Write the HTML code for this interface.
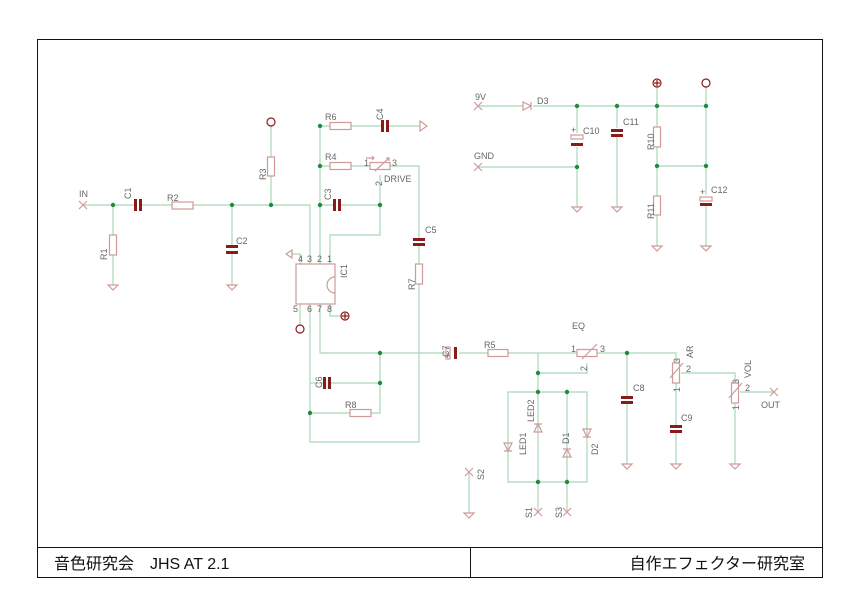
<!DOCTYPE html>
<html><head><meta charset="utf-8"><style>
html,body{margin:0;padding:0;background:#fff}
svg{display:block}
.w{stroke:#a6d8b6;stroke-width:1.2;fill:none}
.c{stroke:#d09a9a;stroke-width:1.2;fill:none}
.cap{fill:#8b1a1a}
.d{fill:#1e8c3a}
text{font-family:"Liberation Sans",sans-serif;font-size:9px;fill:#666}
.t{font-family:"Liberation Sans","Noto Sans CJK JP",sans-serif;font-size:16px;fill:#111}
</style></head><body>
<svg width="859" height="612" viewBox="0 0 859 612">
<rect x="37.5" y="39.5" width="785" height="538" fill="none" stroke="#111" stroke-width="1"/>
<line x1="37" y1="547.5" x2="822" y2="547.5" stroke="#111"/>
<line x1="470.5" y1="547" x2="470.5" y2="577" stroke="#111"/>
<text class="t" x="54" y="569">音色研究会　JHS AT 2.1</text>
<text class="t" x="805" y="569" text-anchor="end">自作エフェクター研究室</text>

<!-- wires left -->
<g class="w">
<path d="M83 205H134M141 205H172M193 205H310V264"/>
<path d="M113 205V235M113 255V285"/>
<path d="M232 205V245M232 254V285"/>
<path d="M271 205V176M271 157V126"/>
<path d="M320 126V264M320 126H330M351 126H381M388 126H420"/>
<path d="M320 166H330M351 166H370M390 166H419V238M419 244V264M419 284V442H310V304"/>
<path d="M320 205H333M340 205H380V235H330V264"/>
<path d="M380 205V175"/>
<path d="M300 264V254H292"/>
<path d="M300 304V325"/>
<path d="M330 304V316H341"/>
<path d="M320 304V353H446M459 353H488M508 353H577M597 353H676V363"/>
<path d="M380 353V413H371M350 413H310"/>
<path d="M310 383H323M330 383H380"/>
<!-- right-bottom -->
<path d="M538 353V482M587 363V373H538M508 392H587V482H508Z"/>
<path d="M538 482V512M567 392V512"/>
<path d="M469 472V513"/>
<path d="M627 353V396M627 403V464"/>
<path d="M676 383V425M676 431V464M681 373H735V383M735 403V464M740 392H774"/>
<!-- top right -->
<path d="M478 106H523M533 106H706V166M657 106V87M706 106V87"/>
<path d="M478 167H577V207M577 106V133M577 147V167"/>
<path d="M617 106V128M617 136V207"/>
<path d="M657 106V127M657 147V196M657 215V246M657 166H706V195M706 206V246"/>
</g>

<!-- components outlines -->
<g class="c">
<rect x="172" y="202" width="21" height="7"/>
<rect x="109.5" y="235" width="7" height="20"/>
<rect x="267.5" y="157" width="7" height="19"/>
<circle cx="271" cy="122" r="4" stroke="#8b1a1a"/>
<rect x="330" y="122.5" width="21" height="7"/>
<rect x="330" y="162.5" width="21" height="7"/>
<rect x="370" y="162.5" width="20" height="7"/>
<path d="M375 171L389 158M386 158h3v3M366 158h8m-2-2l2 2-2 2"/>
<rect x="415.5" y="264" width="7" height="20"/>
<rect x="350" y="409.5" width="21" height="7"/>
<rect x="296" y="264" width="39" height="40"/>
<path d="M335 277a8 8 0 0 0 0 16"/>
<path d="M292 250v8l-6-4z"/>
<circle cx="300" cy="329" r="4" stroke="#8b1a1a"/>
<circle cx="345" cy="316" r="4" stroke="#8b1a1a"/>
<path d="M345 313v6M342 316h6" stroke="#8b1a1a"/>
<path d="M420 121v10l7-5z"/>
<rect x="488" y="349.5" width="20" height="7"/>
<rect x="577" y="349.5" width="20" height="7"/>
<path d="M582 359L597 344"/>
<rect x="672.5" y="363" width="7" height="20"/>
<rect x="731.5" y="383" width="7" height="20"/>
<path d="M670 378L683 363M729 398L742 383"/>
<rect x="653.5" y="127" width="7" height="20"/>
<rect x="653.5" y="196" width="7" height="19"/>
<circle cx="657" cy="83" r="4" stroke="#8b1a1a"/>
<path d="M657 80v6M654 83h6" stroke="#8b1a1a"/>
<circle cx="706" cy="83" r="4" stroke="#8b1a1a"/>
<!-- diodes -->
<path d="M523 102v8l8-4zM531 102v8"/>
<path d="M504 443h8l-4 8zM504 451h8"/>
<path d="M534 432h8l-4-8zM534 424h8"/>
<path d="M563 457h8l-4-8zM563 449h8"/>
<path d="M583 429h8l-4 8zM583 437h8"/>
<!-- grounds -->
<path d="M108 285h10l-5 5zM227 285h10l-5 5zM572 207h10l-5 5zM612 207h10l-5 5zM652 246h10l-5 5zM701 246h10l-5 5zM622 464h10l-5 5zM671 464h10l-5 5zM730 464h10l-5 5zM464 513h10l-5 5z"/>
<!-- X marks -->
<path d="M79 201l8 8M87 201l-8 8M474 102l8 8M482 102l-8 8M474 163l8 8M482 163l-8 8M465 468l8 8M473 468l-8 8M534 508l8 8M542 508l-8 8M563 508l8 8M571 508l-8 8M770 388l8 8M778 388l-8 8"/>
<!-- electrolytic open plates -->
<rect x="446" y="347" width="4" height="12"/>
<rect x="571" y="135" width="12" height="4"/>
<rect x="700" y="197" width="12" height="4"/>
</g>
<!-- caps -->
<g class="cap">
<rect x="134" y="199" width="3" height="12"/><rect x="139" y="199" width="3" height="12"/>
<rect x="226" y="245" width="12" height="3"/><rect x="226" y="251" width="12" height="3"/>
<rect x="333" y="199" width="3" height="12"/><rect x="338" y="199" width="3" height="12"/>
<rect x="381" y="120" width="3" height="12"/><rect x="386" y="120" width="3" height="12"/>
<rect x="413" y="238" width="12" height="3"/><rect x="413" y="243" width="12" height="3"/>
<rect x="323" y="377" width="3" height="12"/><rect x="328" y="377" width="3" height="12"/>
<rect x="454" y="347" width="3" height="12"/>
<rect x="621" y="396" width="12" height="3"/><rect x="621" y="401" width="12" height="3"/>
<rect x="670" y="425" width="12" height="3"/><rect x="670" y="430" width="12" height="3"/>
<rect x="571" y="143" width="12" height="3"/>
<rect x="611" y="129" width="12" height="3"/><rect x="611" y="134" width="12" height="3"/>
<rect x="700" y="203" width="12" height="3"/>
</g>
<!-- dots -->
<g class="d">
<circle cx="113" cy="205" r="2.2"/><circle cx="232" cy="205" r="2.2"/><circle cx="271" cy="205" r="2.2"/>
<circle cx="320" cy="205" r="2.2"/><circle cx="380" cy="205" r="2.2"/><circle cx="320" cy="126" r="2.2"/><circle cx="320" cy="166" r="2.2"/>
<circle cx="380" cy="353" r="2.2"/><circle cx="380" cy="383" r="2.2"/><circle cx="310" cy="413" r="2.2"/>
<circle cx="538" cy="373" r="2.2"/><circle cx="538" cy="392" r="2.2"/><circle cx="567" cy="392" r="2.2"/>
<circle cx="538" cy="482" r="2.2"/><circle cx="567" cy="482" r="2.2"/><circle cx="627" cy="353" r="2.2"/>
<circle cx="577" cy="106" r="2.2"/><circle cx="617" cy="106" r="2.2"/><circle cx="657" cy="106" r="2.2"/><circle cx="706" cy="106" r="2.2"/>
<circle cx="577" cy="167" r="2.2"/><circle cx="657" cy="166" r="2.2"/><circle cx="706" cy="166" r="2.2"/>
</g>
<!-- labels -->
<g>
<text x="79" y="197">IN</text>
<text x="167" y="201">R2</text>
<text x="236" y="244">C2</text>
<text x="325" y="120">R6</text>
<text x="325" y="160">R4</text>
<text x="364" y="166" font-size="7">1</text><text x="392" y="166" font-size="7">3</text>
<text x="384" y="182">DRIVE</text>
<text x="425" y="233">C5</text>
<text x="345" y="408">R8</text>
<text x="298" y="262" font-size="7">4</text><text x="307" y="262" font-size="7">3</text><text x="317" y="262" font-size="7">2</text><text x="327" y="262" font-size="7">1</text>
<text x="293" y="312" font-size="7">5</text><text x="307" y="312" font-size="7">6</text><text x="317" y="312" font-size="7">7</text><text x="327" y="312" font-size="7">8</text>
<text x="484" y="348">R5</text>
<text x="572" y="329">EQ</text>
<text x="571" y="352" font-size="7">1</text><text x="600" y="352" font-size="7">3</text>
<text x="633" y="391">C8</text>
<text x="681" y="421">C9</text>
<text x="686" y="372" font-size="7">2</text><text x="745" y="391" font-size="7">2</text>
<text x="761" y="408">OUT</text>
<text x="475" y="100">9V</text><text x="537" y="104">D3</text>
<text x="474" y="159">GND</text>
<text x="583" y="134">C10</text><text x="623" y="125">C11</text><text x="711" y="193">C12</text>
<text x="445" y="359" font-size="7" fill="#c00">+</text>
<text x="571" y="133" font-size="7" fill="#c00">+</text>
<text x="700" y="195" font-size="7" fill="#c00">+</text>
</g>
<g font-size="9">
<text transform="translate(131,199) rotate(-90)">C1</text>
<text transform="translate(107,260) rotate(-90)">R1</text>
<text transform="translate(266,180) rotate(-90)">R3</text>
<text transform="translate(331,200) rotate(-90)">C3</text>
<text transform="translate(383,120) rotate(-90)">C4</text>
<text transform="translate(382,186) rotate(-90)" font-size="7">2</text>
<text transform="translate(347,278) rotate(-90)">IC1</text>
<text transform="translate(415,290) rotate(-90)">R7</text>
<text transform="translate(322,388) rotate(-90)">C6</text>
<text transform="translate(449,357) rotate(-90)">C7</text>
<text transform="translate(587,371) rotate(-90)" font-size="7">2</text>
<text transform="translate(693,358) rotate(-90)">AR</text>
<text transform="translate(680,363) rotate(-90)" font-size="7">3</text>
<text transform="translate(680,392) rotate(-90)" font-size="7">1</text>
<text transform="translate(751,378) rotate(-90)">VOL</text>
<text transform="translate(739,384) rotate(-90)" font-size="7">3</text>
<text transform="translate(739,410) rotate(-90)" font-size="7">1</text>
<text transform="translate(526,455) rotate(-90)">LED1</text>
<text transform="translate(534,422) rotate(-90)">LED2</text>
<text transform="translate(569,444) rotate(-90)">D1</text>
<text transform="translate(598,455) rotate(-90)">D2</text>
<text transform="translate(484,480) rotate(-90)">S2</text>
<text transform="translate(532,518) rotate(-90)">S1</text>
<text transform="translate(562,518) rotate(-90)">S3</text>
<text transform="translate(654,150) rotate(-90)">R10</text>
<text transform="translate(654,219) rotate(-90)">R11</text>
</g>
</svg>
</body></html>
